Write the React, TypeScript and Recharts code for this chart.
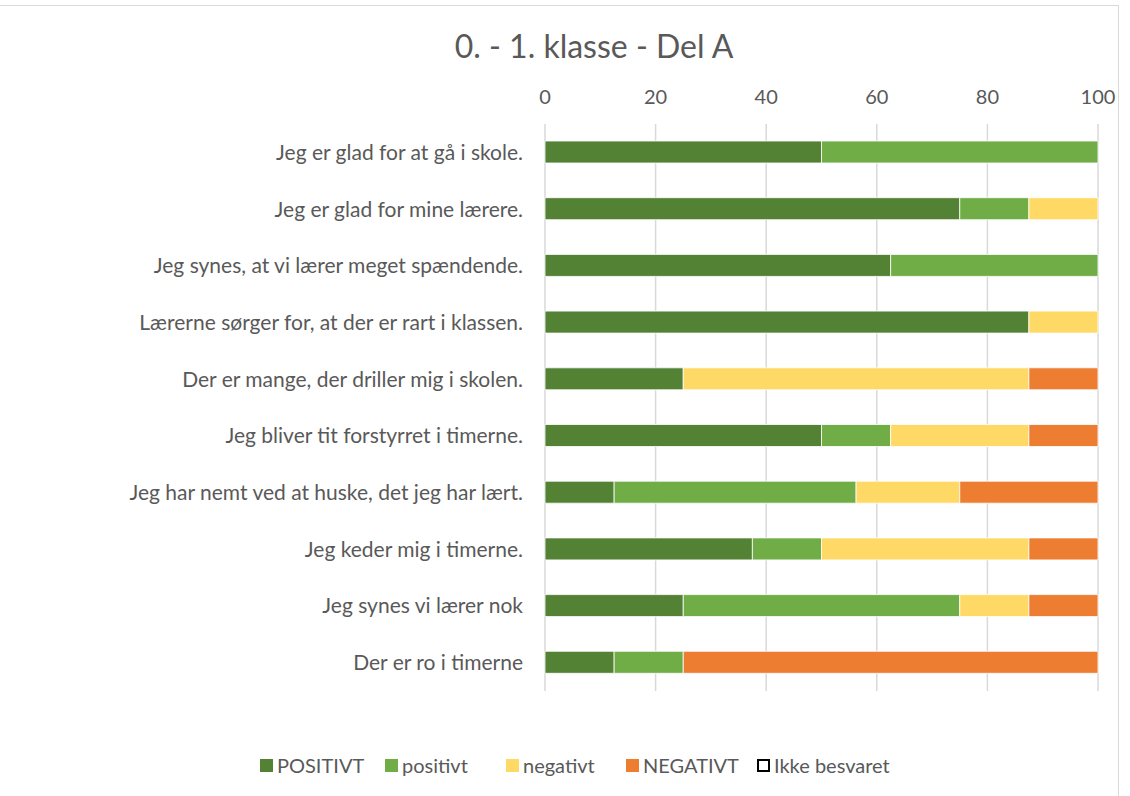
import React from "react";
import { BarChart, Bar, XAxis, YAxis, CartesianGrid } from "recharts";

const questions = [
  "Jeg er glad for at gå i skole.",
  "Jeg er glad for mine lærere.",
  "Jeg synes, at vi lærer meget spændende.",
  "Lærerne sørger for, at der er rart i klassen.",
  "Der er mange, der driller mig i skolen.",
  "Jeg bliver tit forstyrret i timerne.",
  "Jeg har nemt ved at huske, det jeg har lært.",
  "Jeg keder mig i timerne.",
  "Jeg synes vi lærer nok",
  "Der er ro i timerne",
];

const positivtStor = [50, 75, 62.5, 87.5, 25, 50, 12.5, 37.5, 25, 12.5];
const positivt = [50, 12.5, 37.5, 0, 0, 12.5, 43.75, 12.5, 50, 12.5];
const negativt = [0, 12.5, 0, 12.5, 62.5, 25, 18.75, 37.5, 12.5, 0];
const negativtStor = [0, 0, 0, 0, 12.5, 12.5, 25, 12.5, 12.5, 75];
const ikkeBesvaret = [0, 0, 0, 0, 0, 0, 0, 0, 0, 0];

const xTicks = [0, 20, 40, 60, 80, 100];

const series = [
  { key: "POSITIVT", color: "#548235" },
  { key: "positivt", color: "#70AD47" },
  { key: "negativt", color: "#FFD966" },
  { key: "NEGATIVT", color: "#ED7D31" },
  { key: "Ikke besvaret", color: "#FFFFFF" },
];

// legend item left edges, px
const legendX = [260, 385, 506, 626, 757];

const data = questions.map((q, i) => ({
  q,
  POSITIVT: positivtStor[i],
  positivt: positivt[i],
  negativt: negativt[i],
  NEGATIVT: negativtStor[i],
  "Ikke besvaret": ikkeBesvaret[i],
}));

const font = "Lato, 'Open Sans', sans-serif";
const textColor = "#595959";

export default function App() {
  return (
    <div
      style={{
        position: "absolute",
        left: 0,
        top: 0,
        width: 1130,
        height: 796,
        background: "#fff",
        fontFamily: font,
        overflow: "hidden",
      }}
    >
      {/* chart frame, only top and right edges visible */}
      <div
        style={{
          position: "absolute",
          left: -2,
          top: 5,
          width: 1120,
          height: 800,
          borderTop: "1px solid #d9d9d9",
          borderRight: "1px solid #d9d9d9",
        }}
      />
      <div
        style={{
          position: "absolute",
          top: 26,
          left: 0,
          width: 1188,
          textAlign: "center",
          fontSize: 32,
          color: textColor,
        }}
      >
        0. - 1. klasse - Del A
      </div>
      <div style={{ position: "absolute", left: 0, top: 0 }}>
        <BarChart
          width={1130}
          height={796}
          layout="vertical"
          data={data}
          margin={{ top: 80, right: 32, left: 0, bottom: 105 }}
          barSize={22}
        >
          <CartesianGrid
            horizontal={false}
            stroke="#d9d9d9"
            strokeWidth={1.5}
          />
          <XAxis
            type="number"
            orientation="top"
            domain={[0, 100]}
            ticks={xTicks}
            height={44}
            axisLine={false}
            tickLine={false}
            tick={{ fontSize: 20, fill: textColor, fontFamily: font }}
            tickMargin={14}
          />
          <YAxis
            type="category"
            dataKey="q"
            width={545}
            axisLine={false}
            tickLine={false}
            tick={{ fontSize: 21, fill: textColor, fontFamily: font }}
            tickMargin={16}
          />
          {series.map((s) => (
            <Bar
              key={s.key}
              dataKey={s.key}
              stackId="a"
              fill={s.color}
              stroke={s.key === "Ikke besvaret" ? "#000" : "#fff"}
              strokeWidth={0.8}
              isAnimationActive={false}
            />
          ))}
        </BarChart>
      </div>
      {series.map((s, i) => (
        <div
          key={s.key}
          style={{
            position: "absolute",
            left: legendX[i],
            top: 753,
            display: "flex",
            alignItems: "center",
            fontSize: 20,
            color: textColor,
            whiteSpace: "nowrap",
          }}
        >
          <span
            style={{
              display: "inline-block",
              width: 13,
              height: 13,
              boxSizing: "border-box",
              background: s.color,
              border: s.key === "Ikke besvaret" ? "2px solid #000" : "none",
              marginRight: 4,
            }}
          />
          <span>{s.key}</span>
        </div>
      ))}
    </div>
  );
}
